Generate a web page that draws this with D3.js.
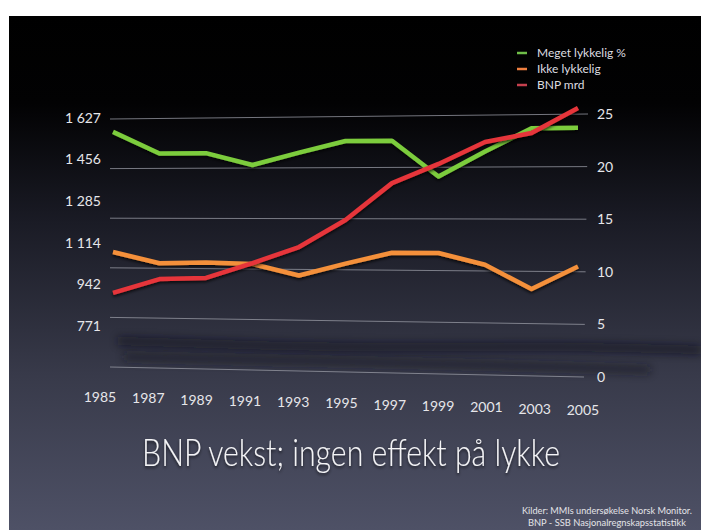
<!DOCTYPE html>
<html>
<head>
<meta charset="utf-8">
<script src="https://cdn.jsdelivr.net/npm/d3@7"></script>
<style>
  html, body { margin: 0; padding: 0; background: #fff; }
  svg { display: block; font-family: Lato, "Open Sans", sans-serif; }
</style>
</head>
<body>
<svg id="chart" width="701" height="530"></svg>
<script>
// values
var years = [1985, 1987, 1989, 1991, 1993, 1995, 1997, 1999, 2001, 2003, 2005];
var megetLykkelig = [23.7, 21.5, 21.5, 20.3, 21.5, 22.6, 22.6, 19.1, 21.5, 23.7, 23.7];
var ikkeLykkelig = [11.6, 10.5, 10.6, 10.5, 9.4, 10.6, 11.7, 11.7, 10.6, 8.3, 10.5];
var bnpMrd = [907, 964, 969, 1030, 1096, 1207, 1359, 1438, 1528, 1565, 1668];
var leftTicks = [771, 942, 1114, 1285, 1456, 1627];
var rightTicks = [0, 5, 10, 15, 20, 25];
var legendNames = ["Meget lykkelig %", "Ikke lykkelig", "BNP mrd"];
var title = "BNP vekst; ingen effekt på lykke";
var sources = ["Kilder: MMIs undersøkelse Norsk Monitor.", "BNP - SSB Nasjonalregnskapsstatistikk"];

var svg = d3.select('#chart');
var defs = svg.append('defs');

var bg = defs.append('linearGradient').attr('id', 'bg')
    .attr('x1', 0).attr('y1', 0).attr('x2', 0).attr('y2', 1);
bg.append('stop').attr('offset', '0%').attr('stop-color', '#000000');
bg.append('stop').attr('offset', '17%').attr('stop-color', '#020203');
bg.append('stop').attr('offset', '40%').attr('stop-color', '#1a1b25');
bg.append('stop').attr('offset', '70%').attr('stop-color', '#383a4a');
bg.append('stop').attr('offset', '100%').attr('stop-color', '#4e5166');

defs.append('filter').attr('id', 'blur')
    .attr('x', '-20%').attr('y', '-300%').attr('width', '140%').attr('height', '700%')
    .append('feGaussianBlur').attr('stdDeviation', 4);

var shadow = defs.append('filter').attr('id', 'shadow')
    .attr('x', '-5%').attr('y', '-20%').attr('width', '110%').attr('height', '140%');
shadow.append('feDropShadow').attr('dx', 0).attr('dy', 2).attr('stdDeviation', 1.5)
    .attr('flood-color', '#000').attr('flood-opacity', 0.7);

var textShadow = defs.append('filter').attr('id', 'tshadow')
    .attr('x', '-5%').attr('y', '-30%').attr('width', '110%').attr('height', '160%');
textShadow.append('feDropShadow').attr('dx', 0).attr('dy', 2).attr('stdDeviation', 1.5)
    .attr('flood-color', '#000').attr('flood-opacity', 0.6);

// slide background (white margin top/left like the photo)
svg.append('rect').attr('x', 9).attr('y', 16).attr('width', 692).attr('height', 514)
    .attr('fill', 'url(#bg)');

// grid is drawn in slight perspective: left end and right end have own scales
var gridX0 = 110, gridX1 = 588;
var yGridLeft = d3.scaleLinear().domain([0, 25]).range([367, 119]);
var yGridRight = d3.scaleLinear().domain([0, 25]).range([377, 114]);
function yPct(v, x) {
    var t = (x - gridX0) / (gridX1 - gridX0);
    return yGridLeft(v) + t * (yGridRight(v) - yGridLeft(v));
}

var x = d3.scaleLinear().domain([1985, 2005]).range([113, 578]);
var xLabel = d3.scaleLinear().domain([1985, 2005]).range([100, 583]);
var yLeft = d3.scaleLinear().domain([771, 1627]).range([326, 118]);

// blurred dark reflection band below the chart
var bandTop = [[118, 341], [260, 346], [420, 348], [560, 346], [701, 350]];
var bandBottom = [[124, 357], [300, 361], [450, 364], [560, 367], [650, 370]];
svg.append('path')
    .attr('d', d3.line().curve(d3.curveBasis)(bandTop))
    .attr('fill', 'none').attr('stroke', '#10111a').attr('stroke-width', 8)
    .attr('opacity', 0.65).attr('filter', 'url(#blur)');
svg.append('path')
    .attr('d', d3.line().curve(d3.curveBasis)(bandBottom))
    .attr('fill', 'none').attr('stroke', '#12131b').attr('stroke-width', 7)
    .attr('opacity', 0.6).attr('filter', 'url(#blur)');

// grid lines
svg.append('g').selectAll('line').data(rightTicks).enter().append('line')
    .attr('x1', gridX0).attr('x2', function(d) { return gridX1 - (25 - d) / 25 * 4; })
    .attr('y1', function(d) { return yGridLeft(d); })
    .attr('y2', function(d) { return yGridRight(d); })
    .attr('stroke', '#9a9ca6').attr('stroke-width', 1).attr('opacity', 0.75);

// right axis labels
svg.append('g').selectAll('text').data(rightTicks).enter().append('text')
    .attr('x', 597)
    .attr('y', function(d) { return yGridRight(d); })
    .attr('dy', '0.35em')
    .attr('fill', '#e6e6ea').attr('font-size', 14)
    .text(String);

// left axis labels
var nb = d3.formatLocale({ decimal: ',', thousands: ' ', grouping: [3], currency: ['', ''] });
var fmt = nb.format(',');
svg.append('g').selectAll('text').data(leftTicks).enter().append('text')
    .attr('x', 101)
    .attr('y', function(d) { return yLeft(d); })
    .attr('dy', '0.35em')
    .attr('text-anchor', 'end')
    .attr('fill', '#e6e6ea').attr('font-size', 14)
    .text(function(d) { return fmt(d); });

// year labels, also slanted a little
svg.append('g').selectAll('text').data(years).enter().append('text')
    .attr('x', function(d) { return xLabel(d); })
    .attr('y', function(d) { return 397 + (xLabel(d) - 100) / 483 * 13; })
    .attr('dy', '0.35em')
    .attr('text-anchor', 'middle')
    .attr('fill', '#e6e6ea').attr('font-size', 14)
    .text(String);

// series
var pctLine = d3.line()
    .x(function(d, i) { return x(years[i]); })
    .y(function(d, i) { return yPct(d, x(years[i])); });
var bnpLine = d3.line()
    .x(function(d, i) { return x(years[i]); })
    .y(function(d) { return yLeft(d); });

var series = [
    { values: megetLykkelig, color: '#7ccc3c', line: pctLine },
    { values: ikkeLykkelig, color: '#f4903a', line: pctLine },
    { values: bnpMrd, color: '#e6363a', line: bnpLine }
];

svg.append('g').selectAll('path').data(series).enter().append('path')
    .attr('d', function(s) { return s.line(s.values); })
    .attr('fill', 'none')
    .attr('stroke', function(s) { return s.color; })
    .attr('stroke-width', 4.5)
    .attr('stroke-linejoin', 'round')
    .attr('filter', 'url(#shadow)');

// legend
var legendColors = ['#6fbd48', '#ee7f40', '#c4404e'];
var legend = svg.append('g').selectAll('g').data(legendNames).enter().append('g')
    .attr('transform', function(d, i) { return 'translate(517,' + (53 + i * 16) + ')'; });
legend.append('line')
    .attr('x1', 0).attr('x2', 10).attr('y1', 0).attr('y2', 0)
    .attr('stroke', function(d, i) { return legendColors[i]; })
    .attr('stroke-width', 2.5);
legend.append('text')
    .attr('x', 20).attr('dy', '0.35em')
    .attr('fill', '#dcdce0').attr('font-size', 12)
    .text(String);

// title
svg.append('text')
    .attr('x', 351).attr('y', 466)
    .attr('text-anchor', 'middle')
    .attr('fill', '#f4f4f6').attr('font-size', 37).attr('font-weight', 300)
    .attr('textLength', 418).attr('lengthAdjust', 'spacingAndGlyphs')
    .attr('filter', 'url(#tshadow)')
    .text(title);

// sources
svg.append('g').selectAll('text').data(sources).enter().append('text')
    .attr('x', 607)
    .attr('y', function(d, i) { return 511 + i * 12; })
    .attr('dy', '0.35em')
    .attr('text-anchor', 'middle')
    .attr('fill', '#e4e4e8').attr('font-size', 9)
    .attr('textLength', function(d, i) { return i === 0 ? 170 : 158; })
    .attr('lengthAdjust', 'spacingAndGlyphs')
    .text(String);
</script>
</body>
</html>
